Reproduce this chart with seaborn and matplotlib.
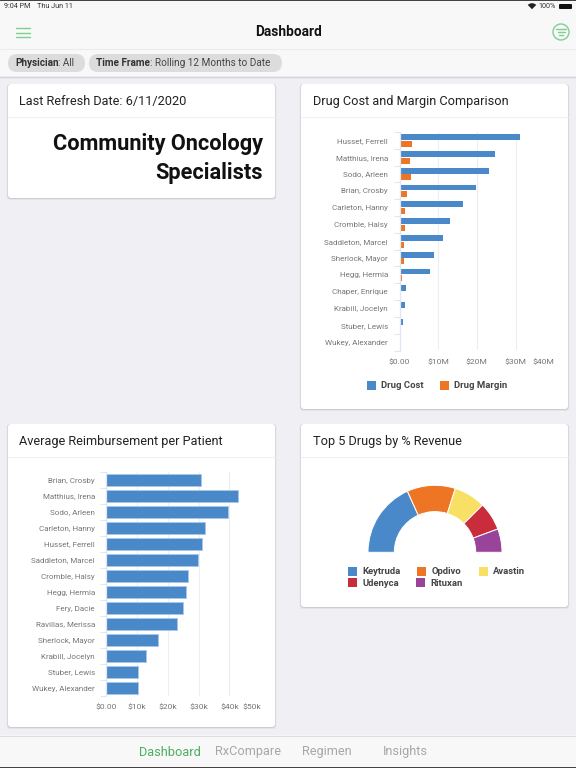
#!/usr/bin/env python3
import matplotlib

matplotlib.use("Agg")

import matplotlib.pyplot as plt
import pandas as pd
import seaborn as sns
from matplotlib.patches import Circle, FancyBboxPatch, Rectangle, Wedge
from matplotlib.transforms import ScaledTranslation

W, H = 576, 768

BLUE = "#4a89c9"
ORANGE = "#ee7524"
GREEN = "#4caf60"
GRID = "#eceef3"
AXIS = "#dfe6f5"

cost_names = [
    "Husset, Ferrell", "Matthius, Irena", "Sodo, Arleen", "Brian, Crosby",
    "Carleton, Hanny", "Cromble, Halsy", "Saddleton, Marcel", "Sherlock, Mayor",
    "Hegg, Hermia", "Chaper, Enrique", "Krabill, Jocelyn", "Stuber, Lewis",
    "Wukey, Alexander",
]
drug_cost = [31.1, 24.7, 23.1, 19.9, 16.4, 13.0, 11.3, 8.8, 8.0, 1.6, 1.4, 0.85, 0]
drug_margin = [3.2, 2.8, 3.0, 2.0, 1.4, 1.4, 1.2, 1.2, 0.7, 0, 0, 0, 0]
cost_ticks = [0, 10, 20, 30, 40]
cost_tick_labels = ["$0.00", "$10M", "$20M", "$30M", "$40M"]

reimb_names = [
    "Brian, Crosby", "Matthius, Irena", "Sodo, Arleen", "Carleton, Hanny",
    "Husset, Ferrell", "Saddleton, Marcel", "Cromble, Halsy", "Hegg, Hermia",
    "Fery, Dacie", "Ravillas, Merissa", "Sherlock, Mayor", "Krabill, Jocelyn",
    "Stuber, Lewis", "Wukey, Alexander",
]
reimbursement = [30.7, 42.7, 39.7, 32.2, 31.0, 29.7, 26.6, 26.0, 24.9, 22.9, 16.8, 12.9, 10.2, 10.2]
reimb_ticks = [0, 10, 20, 30, 40, 50]
reimb_tick_labels = ["$0.00", "$10k", "$20k", "$30k", "$40k", "$50k"]

drug_names = ["Keytruda", "Opdivo", "Avastin", "Udenyca", "Rituxan"]
drug_share = [36.5, 23.3, 15.3, 13.6, 11.3]
drug_colors = [BLUE, ORANGE, "#f7e063", "#c92d3c", "#99449b"]

sns.set_theme(style="white")
plt.rcParams["font.family"] = ["Roboto", "Liberation Sans", "DejaVu Sans"]


def px_axes(fig, left, top, right, bottom, **kwargs):
    return fig.add_axes(
        [left / W, 1 - bottom / H, (right - left) / W, (bottom - top) / H], **kwargs
    )


def card(bg, left, top, right, bottom, divider=None):
    for grow, alpha in ((1.5, 0.03), (0.8, 0.05), (0.3, 0.08)):
        bg.add_patch(FancyBboxPatch(
            (left - grow, top), right - left + 2 * grow, bottom - top + 0.5 + grow,
            boxstyle="round,pad=0,rounding_size=3", fc="black", ec="none", alpha=alpha,
        ))
    bg.add_patch(FancyBboxPatch(
        (left, top), right - left, bottom - top,
        boxstyle="round,pad=0,rounding_size=3", fc="white", ec="none",
    ))
    if divider is not None:
        bg.plot([left, right], [divider, divider], color="#f0f0f2", lw=0.8)


def legend_item(bg, x, y, color, label, text_x):
    bg.add_patch(Rectangle((x, y - 4.5), 9, 9, fc=color, ec="none"))
    bg.text(text_x, y + 0.5, label, fontsize=6.8, fontweight="bold", color="#444444",
            ha="left", va="center")


def chip_label(bg, x, y, name, value):
    # bold part first, the value goes right behind wherever the bold part ended
    renderer = bg.figure.canvas.get_renderer()
    bold = bg.text(x, y, name, fontsize=7.2, fontweight="bold", color="#333333", va="center")
    end = bold.get_window_extent(renderer).x1
    bg.text(end, y, ": " + value, fontsize=7.2, color="#444444", va="center")


def style_bars(ax, n_rows, ticks, tick_labels, xmax, last_shift_px):
    ax.set_xlim(0, xmax)
    ax.set_ylim(n_rows - 0.5, -0.5)
    ax.set_xlabel("")
    ax.set_ylabel("")
    ax.set_xticks(ticks)
    ax.set_xticklabels(tick_labels)
    ax.set_yticks([i - 0.5 for i in range(n_rows + 1)], minor=True)
    ax.tick_params(axis="y", which="minor", length=4.6, width=0.8, color=AXIS, left=True)
    ax.tick_params(axis="y", which="major", length=0, pad=8.2, labelsize=5.8, labelcolor="#777777")
    ax.tick_params(axis="x", length=0, pad=6.0, labelsize=6.1, labelcolor="#777777")
    ax.grid(axis="x", color=GRID, lw=0.8)
    ax.grid(axis="y", visible=False)
    ax.set_axisbelow(True)
    ax.patch.set_alpha(0)
    sns.despine(ax=ax, top=True, right=True, bottom=True)
    ax.spines["left"].set_color(AXIS)
    ax.spines["left"].set_linewidth(0.9)
    # the last label is pulled in so it stays inside the chart area
    last = ax.get_xticklabels()[-1]
    last.set_transform(last.get_transform() + ScaledTranslation(-last_shift_px / 100, 0, ax.figure.dpi_scale_trans))


def draw_chrome(bg):
    bg.add_patch(Rectangle((0, 0), W, 76, fc="#f8f8f8", ec="none"))
    bg.add_patch(Rectangle((0, 735), W, 33, fc="#f8f8f8", ec="none"))
    bg.add_patch(Rectangle((0, 0), W, 1, fc="#444444", ec="none"))
    bg.add_patch(Rectangle((0, 767), W, 1, fc="#444444", ec="none"))
    bg.plot([0, W], [48.5, 48.5], color="#ececec", lw=0.8)
    bg.plot([0, W], [76.5, 76.5], color="#d4d4d6", lw=1.0)
    bg.plot([0, W], [735.5, 735.5], color="#dcdcde", lw=0.8)

    bg.text(4, 7, "9:04 PM", fontsize=5.2, color="#333333", va="center")
    bg.text(37, 7, "Thu Jun 11", fontsize=5.2, color="#333333", va="center")
    bg.text(538.5, 7, "100%", fontsize=5.2, color="#333333", va="center")
    bg.add_patch(Wedge((532, 9.2), 6, 225, 315, fc="#222222", ec="none"))
    bg.add_patch(FancyBboxPatch((559, 4), 13, 5, boxstyle="round,pad=0,rounding_size=1",
                                fc="#111111", ec="none"))

    bg.text(288, 32.5, "Dashboard", fontsize=9.8, fontweight="bold", color="#111111",
            ha="center", va="center")
    for y in (28, 32.5, 37):
        bg.plot([15.5, 29.5], [y, y], color="#7fcf92", lw=1.0, solid_capstyle="round")
    bg.add_patch(Circle((561, 32), 8, fc="none", ec="#7fcf92", lw=1.0))
    for half, y in ((5, 28.7), (3.5, 32), (1.7, 35.3)):
        bg.plot([561 - half, 561 + half], [y, y], color="#7fcf92", lw=1.0)

    for left, right in ((8, 85), (89, 282)):
        bg.add_patch(FancyBboxPatch((left, 54), right - left, 18, boxstyle="round,pad=0,rounding_size=9",
                                    fc="#dcdcdc", ec="none"))
    chip_label(bg, 15, 63.5, "Physician", "All")
    chip_label(bg, 96, 63.5, "Time Frame", "Rolling 12 Months to Date")

    bg.text(170, 752, "Dashboard", fontsize=9.2, color=GREEN, ha="center", va="center")
    bg.text(248.5, 752, "RxCompare", fontsize=9.2, color="#a8a8a8", ha="center", va="center")
    bg.text(327, 752, "Regimen", fontsize=9.2, color="#a8a8a8", ha="center", va="center")
    bg.text(405, 752, "Insights", fontsize=9.2, color="#a8a8a8", ha="center", va="center")


def main():
    fig = plt.figure(figsize=(W / 100, H / 100), dpi=100, facecolor="#efeff4")

    bg = fig.add_axes([0, 0, 1, 1], zorder=0)
    bg.set_xlim(0, W)
    bg.set_ylim(H, 0)
    bg.axis("off")
    draw_chrome(bg)

    card(bg, 8, 84, 275, 198, divider=117)
    card(bg, 301, 84, 568, 409, divider=117)
    card(bg, 8, 424, 275, 727, divider=457)
    card(bg, 301, 424, 568, 607, divider=457)

    title_style = dict(fontsize=9.2, color="#222222", va="center", ha="left")
    bg.text(19, 101, "Last Refresh Date: 6/11/2020", **title_style)
    bg.text(313, 101, "Drug Cost and Margin Comparison", **title_style)
    bg.text(19, 441, "Average Reimbursement per Patient", **title_style)
    bg.text(313, 441, "Top 5 Drugs by % Revenue", **title_style)

    bg.text(263, 144, "Community Oncology", fontsize=15.7, fontweight="bold", color="#111111",
            ha="right", va="center")
    bg.text(263, 173, "Specialists", fontsize=15.7, fontweight="bold", color="#111111",
            ha="right", va="center")

    # drug cost / margin
    cost_df = pd.DataFrame({
        "physician": cost_names * 2,
        "value": drug_cost + drug_margin,
        "series": ["Drug Cost"] * len(cost_names) + ["Drug Margin"] * len(cost_names),
    })
    ax_cost = px_axes(fig, 399.5, 132, 554.2, 350.5, zorder=2)
    sns.barplot(
        data=cost_df, y="physician", x="value", hue="series",
        palette=[BLUE, ORANGE], saturation=1, width=0.8, gap=0.12,
        errorbar=None, legend=False, linewidth=0, ax=ax_cost,
    )
    style_bars(ax_cost, len(cost_names), cost_ticks, cost_tick_labels, 40, 10.5)
    legend_item(bg, 366.7, 385, BLUE, "Drug Cost", 381)
    legend_item(bg, 440, 385, ORANGE, "Drug Margin", 454)

    # reimbursement
    reimb_df = pd.DataFrame({"physician": reimb_names, "value": reimbursement})
    ax_reimb = px_axes(fig, 106.2, 472, 260.2, 696, zorder=2)
    sns.barplot(
        data=reimb_df, y="physician", x="value", color=BLUE, saturation=1,
        width=0.8, errorbar=None, edgecolor="#a9c8ea", linewidth=0.6, ax=ax_reimb,
    )
    style_bars(ax_reimb, len(reimb_names), reimb_ticks, reimb_tick_labels, 50, 8.4)

    # half doughnut, the shares only fill the top half of the circle
    ax_gauge = px_axes(fig, 368, 485.3, 502, 619.3, zorder=2)
    ax_gauge.pie(
        [v / 200 for v in drug_share], colors=drug_colors, startangle=180, counterclock=False,
        normalize=False, radius=1, wedgeprops=dict(width=26.3 / 67, edgecolor="white", linewidth=0.7),
    )
    ax_gauge.set_xlim(-1, 1)
    ax_gauge.set_ylim(-1, 1)
    ax_gauge.patch.set_alpha(0)

    legend_item(bg, 348, 571, drug_colors[0], drug_names[0], 362.3)
    legend_item(bg, 417.3, 571, drug_colors[1], drug_names[1], 431.7)
    legend_item(bg, 478.7, 571, drug_colors[2], drug_names[2], 492.7)
    legend_item(bg, 348, 582.7, drug_colors[3], drug_names[3], 362.3)
    legend_item(bg, 416, 582.7, drug_colors[4], drug_names[4], 430.5)

    fig.savefig("out.png", dpi=100, facecolor=fig.get_facecolor())
    plt.close(fig)


if __name__ == "__main__":
    main()
